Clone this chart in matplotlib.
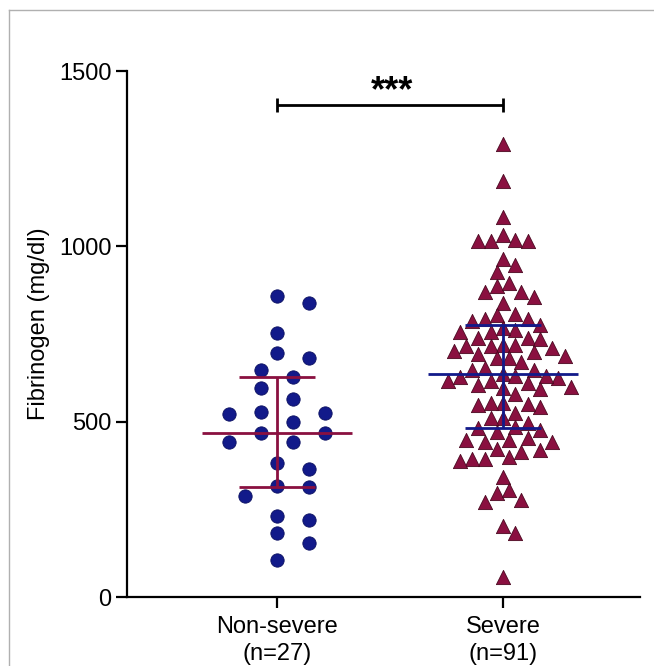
import numpy as np
import matplotlib
matplotlib.use("Agg")
import matplotlib.pyplot as plt
from matplotlib.lines import Line2D

plt.rcParams['font.family'] = ['Liberation Sans', 'DejaVu Sans']

# values (mg/dl)
groups = ['Non-severe\n(n=27)', 'Severe\n(n=91)']
non_severe = [859, 837, 752, 695, 681, 647, 626, 595, 565, 528, 526, 522, 500,
              467, 467, 441, 441, 381, 365, 317, 313, 288, 231, 220, 182, 153, 106]
severe = [1292, 1187, 1085, 1018, 1016, 1016, 1016, 1032, 963, 947, 928, 888,
          895, 871, 869, 856, 839, 804, 807, 792, 761, 766, 757, 755, 776, 792,
          787, 738, 735, 738, 700, 719, 716, 709, 719, 702, 693, 681, 687, 717,
          681, 671, 652, 624, 635, 630, 628, 647, 647, 631, 616, 616, 609, 592,
          605, 580, 598, 595, 548, 554, 526, 510, 510, 554, 543, 550, 486, 495,
          481, 471, 476, 448, 448, 453, 443, 443, 419, 400, 414, 421, 393, 393,
          389, 341, 298, 304, 278, 270, 202, 183, 58]
y_ticks = [0, 500, 1000, 1500]
sig_label = '***'

navy = '#121a8a'
maroon = '#8a1040'

fig = plt.figure(figsize=(6.54, 6.66), dpi=100)
ax = fig.add_axes([127 / 654, 1 - 597 / 666, 513 / 654, 526 / 666])
ax.set_xlim(-0.664, 1.606)
ax.set_ylim(0, 1500)


def swarm(values, center, step_px, wx, wy):
    # beeswarm in pixel space with an elliptical no-overlap zone
    vals = np.asarray(values, dtype=float)
    pts = ax.transData.transform(np.column_stack([np.full(len(vals), center), vals]))
    cx, ys = pts[0, 0], pts[:, 1]
    cands = [0.0]
    for k in range(1, 40):
        cands += [k * step_px, -k * step_px]
    placed = []
    xs = np.zeros(len(vals))
    for i in np.argsort(-vals, kind='stable'):
        for c in cands:
            if all(((c - px) / wx) ** 2 + ((ys[i] - py) / wy) ** 2 >= 1 for px, py in placed):
                break
        placed.append((c, ys[i]))
        xs[i] = cx + c
    return ax.transData.inverted().transform(np.column_stack([xs, ys]))[:, 0]


x_ns = swarm(non_severe, 0, 16, 31, 17)
x_s = swarm(severe, 1, 6.15, 12.2, 14)

ax.scatter(x_ns, non_severe, s=92, marker='o', color=navy, edgecolor='#0a0f60',
           linewidth=0.6, zorder=2)
ax.scatter(x_s, severe, s=105, marker='^', color=maroon, edgecolor='#4a0820',
           linewidth=0.6, zorder=2)

# median with interquartile range
for xc, vals, col in [(0, non_severe, maroon), (1, severe, navy)]:
    q1, med, q3 = np.percentile(vals, [25, 50, 75], method='weibull')
    ax.hlines(med, xc - 0.33, xc + 0.33, color=col, lw=2, zorder=3)
    ax.vlines(xc, q1, q3, color=col, lw=2, zorder=3)
    ax.hlines([q1, q3], xc - 0.17, xc + 0.17, color=col, lw=2, zorder=3)

# significance bracket
ax.hlines(1403, 0, 1, color='black', lw=2, clip_on=False)
ax.vlines([0, 1], 1384, 1422, color='black', lw=2, clip_on=False)
ax.text(0.51, 1440, sig_label, ha='center', va='center', fontsize=26,
        fontweight='bold', clip_on=False)

ax.spines['top'].set_visible(False)
ax.spines['right'].set_visible(False)
for sp in ['left', 'bottom']:
    ax.spines[sp].set_linewidth(1.6)

ax.set_yticks(y_ticks)
ax.set_xticks([0, 1])
ax.set_xticklabels(groups, fontsize=17, linespacing=1.25)
ax.tick_params(axis='y', labelsize=17, length=8, width=1.6, pad=3)
ax.tick_params(axis='x', length=8, width=1.6, pad=6)
ax.set_ylabel('Fibrinogen (mg/dl)', fontsize=17)
ax.yaxis.set_label_coords(-0.15, 0.52)

# thin gray frame at the left and top edge
fig.add_artist(Line2D([9 / 654, 9 / 654], [0, 1 - 10 / 666], transform=fig.transFigure,
                      color='#b0b0b0', lw=1))
fig.add_artist(Line2D([9 / 654, 1], [1 - 10 / 666, 1 - 10 / 666], transform=fig.transFigure,
                      color='#b0b0b0', lw=1))

fig.savefig('out.png', dpi=100)
